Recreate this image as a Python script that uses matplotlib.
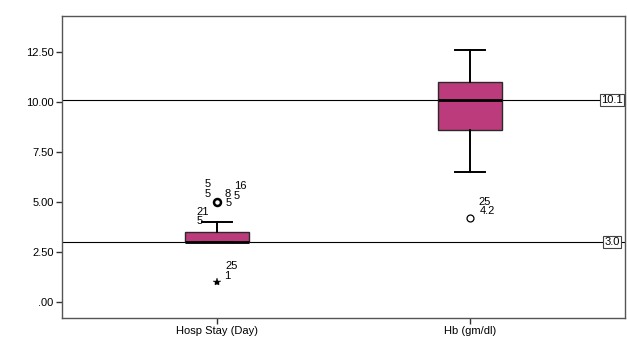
import matplotlib
matplotlib.use("Agg")
import matplotlib.pyplot as plt

plt.rcParams["font.family"] = ["Liberation Sans", "DejaVu Sans"]

# box summaries
categories = ["Hosp Stay (Day)", "Hb (gm/dl)"]
q1 = [3.0, 8.6]
medians = [3.0, 10.1]
q3 = [3.5, 11.0]
whisk_lo = [3.0, 6.5]
whisk_hi = [4.0, 12.6]

# outliers: value, case labels shown next to them
hosp_outliers = [5.0]
hosp_extremes = [1.0]
hb_outliers = [4.2]

ref_values = [10.1, 3.0]
ref_labels = ["10.1", "3.0"]

yticks = [0, 2.5, 5.0, 7.5, 10.0, 12.5]
ytick_labels = [".00", "2.50", "5.00", "7.50", "10.00", "12.50"]

box_color = "#bc3b7c"

fig = plt.figure(figsize=(6.27, 3.38), dpi=100)
ax = fig.add_axes([62 / 627, 1 - 318 / 338, 563 / 627, 302 / 338])

stats = []
for i, name in enumerate(categories):
    stats.append(dict(label=name, med=medians[i], q1=q1[i], q3=q3[i],
                      whislo=whisk_lo[i], whishi=whisk_hi[i], fliers=[]))

ax.bxp(stats, positions=[1, 2], widths=0.25, patch_artist=True,
       showfliers=False,
       boxprops=dict(facecolor=box_color, edgecolor="#2a2a2a", linewidth=1),
       medianprops=dict(color="black", linewidth=2),
       whiskerprops=dict(color="black", linewidth=1.4),
       capprops=dict(color="black", linewidth=1.4),
       capwidths=0.115)

# reference lines
for v, lab in zip(ref_values, ref_labels):
    ax.axhline(v, color="black", linewidth=0.8, zorder=0.5)
    ax.text(0.977, v, lab, transform=ax.get_yaxis_transform(), ha="center",
            va="center", fontsize=8,
            bbox=dict(boxstyle="square,pad=0.1", facecolor="white",
                      edgecolor="#444444", linewidth=0.8))

# outliers
ax.plot([1] * len(hosp_outliers), hosp_outliers, "o", mfc="none", mec="black",
        mew=1.8, ms=5)
ax.plot([1] * len(hosp_extremes), hosp_extremes, "*", color="black", ms=6,
        mew=0.3)
ax.plot([2] * len(hb_outliers), hb_outliers, "o", mfc="none", mec="black",
        mew=0.9, ms=5)

def label(x, y, txt, dx, dy):
    ax.annotate(txt, (x, y), xytext=(dx, dy), textcoords="offset pixels",
                ha="center", va="center", fontsize=8)

# case ids around the hosp stay outlier at 5
for txt, dx, dy in [("5", -9, 18), ("5", -9, 8), ("16", 23, 16), ("8", 11, 8),
                    ("5", 20, 6), ("5", 12, -1), ("21", -14, -10), ("5", -17, -19)]:
    label(1, hosp_outliers[0], txt, dx, dy)
label(1, hosp_extremes[0], "25", 15, 16)
label(1, hosp_extremes[0], "1", 10, 6)
label(2, hb_outliers[0], "25", 15, 16)
label(2, hb_outliers[0], "4.2", 17, 7)

ax.set_xlim(0.387, 2.613)
ax.set_ylim(-0.8, 14.3)
ax.set_xticks([1, 2])
ax.set_xticklabels(categories, fontsize=8)
ax.set_yticks(yticks)
ax.set_yticklabels(ytick_labels, fontsize=8)
ax.tick_params(axis="both", direction="out", length=4, width=1, color="#333333",
               pad=2)
for s in ax.spines.values():
    s.set_color("#555555")
    s.set_linewidth(1)

fig.savefig("out.png", dpi=100)
